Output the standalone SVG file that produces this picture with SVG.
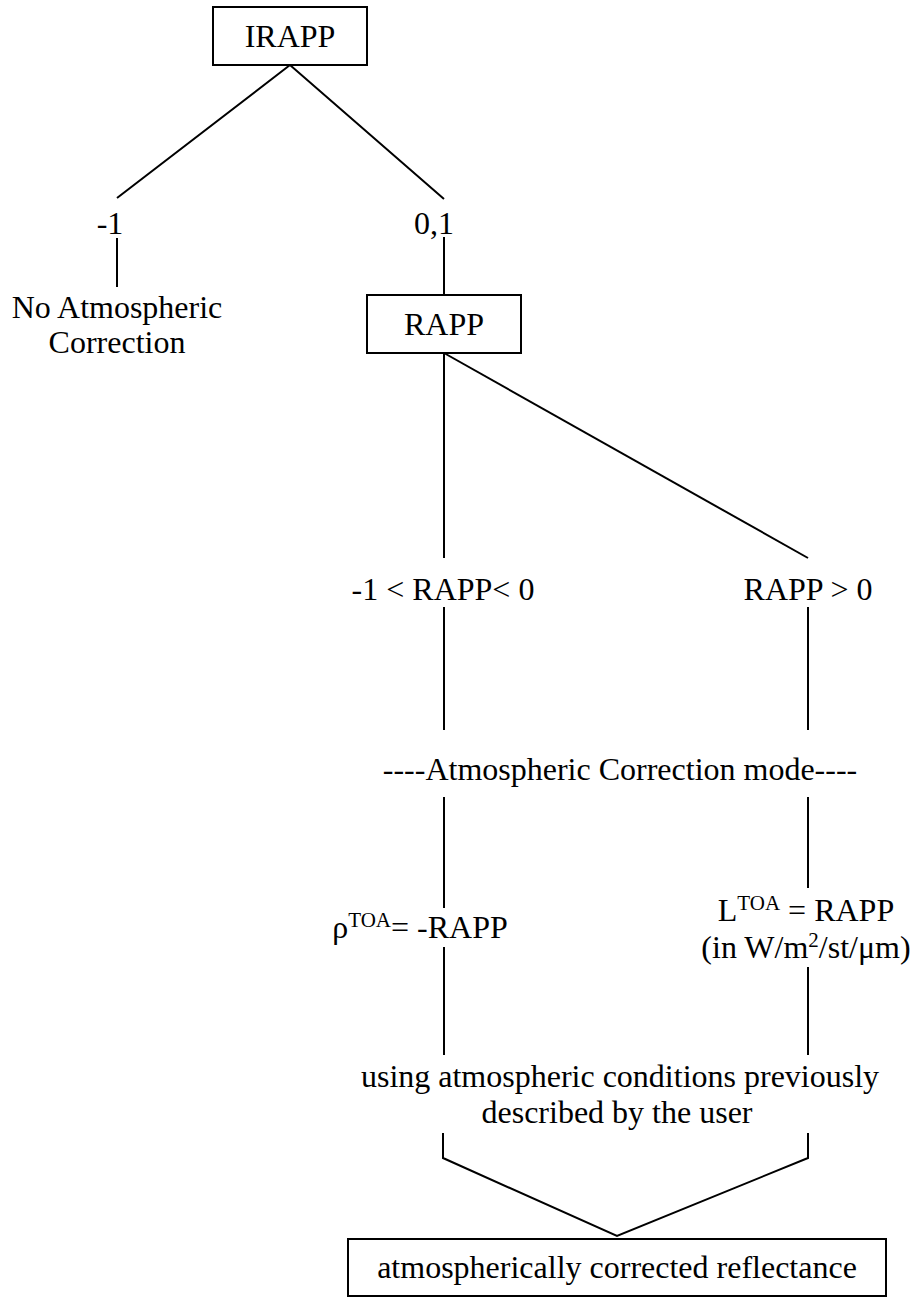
<svg xmlns="http://www.w3.org/2000/svg" width="918" height="1298" viewBox="0 0 918 1298">
  <style>
    .bg { fill: #ffffff; }
    .box { fill: #ffffff; stroke: #000000; stroke-width: 2; }
    .wire { fill: none; stroke: #000000; stroke-width: 2; stroke-linecap: butt; stroke-linejoin: miter; }
    .t { font-family: "Liberation Serif", "Times New Roman", serif; font-size: 32px; fill: #000000; text-anchor: middle; }
    .sup { font-size: 21px; }
  </style>
  <rect class="bg" x="0" y="0" width="918" height="1298"/>

  <!-- connectors -->
  <g id="connectors">
    <polyline class="wire" points="117,198 290,65 444,199"/>
    <line class="wire" x1="117" y1="238" x2="117" y2="287"/>
    <line class="wire" x1="444" y1="237" x2="444" y2="295"/>
    <line class="wire" x1="444" y1="353" x2="444" y2="558"/>
    <line class="wire" x1="444" y1="353" x2="808" y2="558"/>
    <line class="wire" x1="444" y1="607" x2="444" y2="730"/>
    <line class="wire" x1="808" y1="607" x2="808" y2="730"/>
    <line class="wire" x1="444" y1="797" x2="444" y2="908"/>
    <line class="wire" x1="808" y1="797" x2="808" y2="888"/>
    <line class="wire" x1="444" y1="947" x2="444" y2="1055"/>
    <line class="wire" x1="808" y1="967" x2="808" y2="1055"/>
    <polyline class="wire" points="443,1133 443,1158 617,1236 808,1158 808,1133"/>
  </g>

  <g id="irapp">
    <rect class="box" x="213" y="7" width="154" height="58"/>
    <text class="t" x="290" y="47">IRAPP</text>
  </g>

  <g id="irapp-neg">
    <text class="t" x="110" y="234">-1</text>
  </g>

  <g id="irapp-pos">
    <text class="t" x="434" y="234">0,1</text>
  </g>

  <g id="no-correction">
    <text class="t" x="117" y="318">No Atmospheric</text>
    <text class="t" x="117" y="353">Correction</text>
  </g>

  <g id="rapp">
    <rect class="box" x="367" y="295" width="154" height="58"/>
    <text class="t" x="444" y="335">RAPP</text>
  </g>

  <g id="rapp-neg">
    <text class="t" x="443" y="600">-1 &lt; RAPP&lt; 0</text>
  </g>

  <g id="rapp-pos">
    <text class="t" x="808" y="600">RAPP &gt; 0</text>
  </g>

  <g id="mode">
    <text class="t" x="620" y="780">----Atmospheric Correction mode----</text>
  </g>

  <g id="reflectance-input">
    <text class="t" x="420" y="938">ρ<tspan class="sup" dy="-11">TOA</tspan><tspan dy="11">= -RAPP</tspan></text>
  </g>

  <g id="radiance-input">
    <text class="t" x="806" y="921">L<tspan class="sup" dy="-11">TOA</tspan><tspan dy="11"> = RAPP</tspan></text>
    <text class="t" x="806" y="958">(in W/m<tspan class="sup" dy="-11">2</tspan><tspan dy="11">/st/μm)</tspan></text>
  </g>

  <g id="conditions">
    <text class="t" x="620" y="1087">using atmospheric conditions previously</text>
    <text class="t" x="617" y="1123">described by the user</text>
  </g>

  <g id="result">
    <rect class="box" x="348" y="1239" width="538" height="57"/>
    <text class="t" x="617" y="1278">atmospherically corrected reflectance</text>
  </g>
</svg>
